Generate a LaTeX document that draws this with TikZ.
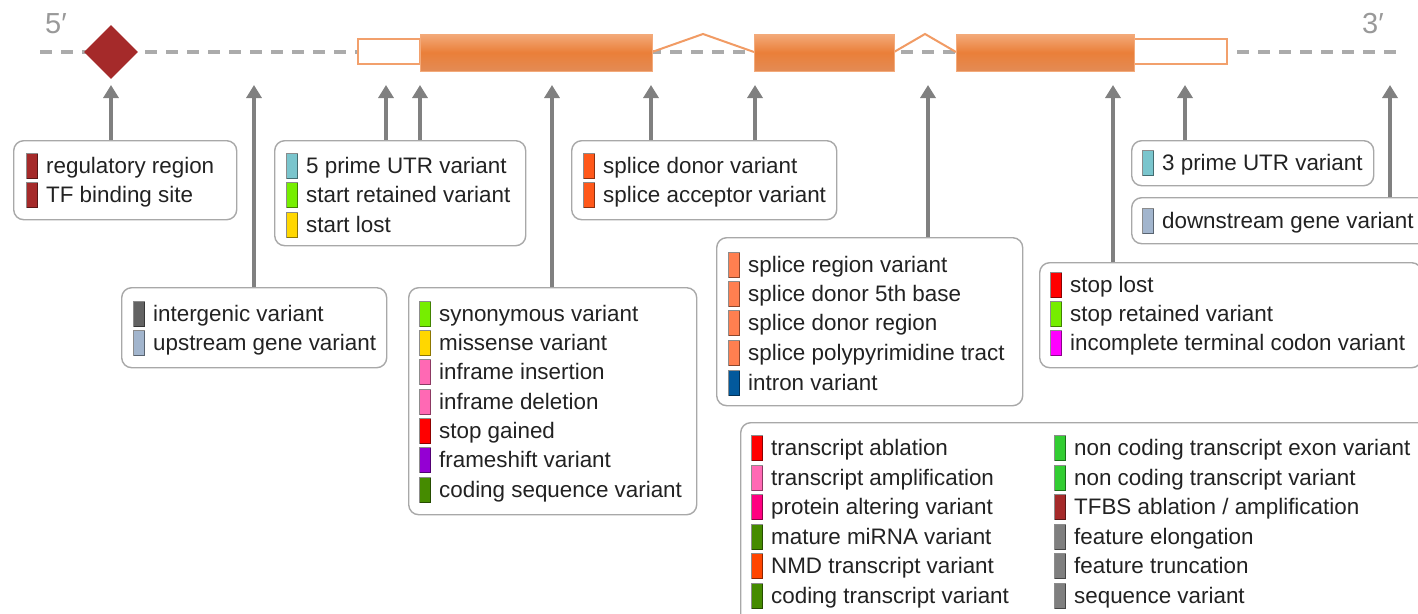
\documentclass[tikz,border=0pt]{standalone}
\usepackage{fontspec}
\setmainfont{Liberation Sans}
\usetikzlibrary{shapes.geometric,arrows.meta}

\definecolor{txt}{HTML}{222222}
\definecolor{boxline}{HTML}{A8A8A8}
\definecolor{pointergray}{HTML}{808080}
\definecolor{backbone}{HTML}{ABABAB}
\definecolor{utrline}{HTML}{F2A06C}
\definecolor{exontop}{HTML}{F3AA7A}
\definecolor{exonmid}{HTML}{EA7F39}
\definecolor{exonbot}{HTML}{E38B55}
% consequence colours
\definecolor{cbrown}{HTML}{A52A2A}
\definecolor{ccadet}{HTML}{7AC5CD}
\definecolor{cchart}{HTML}{76EE00}
\definecolor{cgold}{HTML}{FFD700}
\definecolor{csplice}{HTML}{FF581A}
\definecolor{csteel}{HTML}{A2B5CD}
\definecolor{cinter}{HTML}{636363}
\definecolor{cpink}{HTML}{FF69B4}
\definecolor{cred}{HTML}{FF0000}
\definecolor{cviolet}{HTML}{9400D3}
\definecolor{cdgreen}{HTML}{458B00}
\definecolor{ccoral}{HTML}{FF7F50}
\definecolor{cintron}{HTML}{02599C}
\definecolor{cmagenta}{HTML}{FF00FF}
\definecolor{cprot}{HTML}{FF0080}
\definecolor{cnmd}{HTML}{FF4500}
\definecolor{clime}{HTML}{32CD32}
\definecolor{cgray}{HTML}{7F7F7F}

\tikzset{
  legbox/.style={draw=boxline, line width=1.4pt, rounded corners=10pt, fill=white,
    anchor=north west, inner sep=0pt},
  swatch/.style={draw=black, draw opacity=0.45, line width=0.9pt,
    minimum width=11pt, minimum height=25pt, inner sep=0pt},
  itemtext/.style={anchor=base west, inner sep=0pt, text=txt,
    font=\fontsize{22.4}{27}\selectfont},
  pointer/.style={draw=pointergray, line width=4pt,
    -{Triangle[width=15pt,length=13pt]}},
  exonbox/.style={top color=exontop, bottom color=exonbot, middle color=exonmid,
    draw=exontop, line width=0.8pt},
  utrbox/.style={draw=utrline, line width=2pt, fill=white},
  intronline/.style={draw=utrline!85!exonmid, line width=2pt},
  primelabel/.style={text=black!40, font=\fontsize{29}{30}\selectfont,
    anchor=base west, inner sep=0pt},
}

% one coloured swatch with its consequence name
\newcommand\soitem[5]{%
  \node[swatch, fill=#4] (#1-sw) at (#2,#3) {};
  \node[itemtext] (#1) at ([xshift=8pt,yshift=-7.5pt]#1-sw.east) {#5};}

\begin{document}
\begin{tikzpicture}[x=1pt,y=-1pt]
  \fill[white] (0,0) rectangle (1418,613);
  \clip (0,0) rectangle (1418,613);

  % gene model
  \draw[backbone, line width=3.5pt, dash pattern=on 12pt off 9pt] (40,52) -- (1400,52);
  \node[primelabel] (five) at (45,33) {5′};
  \node[primelabel] (three) at (1362,33) {3′};
  \node[diamond, fill=cbrown, minimum width=54pt, minimum height=54pt, inner sep=0pt] (tfsite) at (111,52) {};
  \draw[utrbox] (358,39) rectangle (420,64);
  \draw[utrbox] (1134,39) rectangle (1227,64);
  \draw[intronline] (652,52) -- (703,34) -- (754,52);
  \draw[intronline] (894,52) -- (925,34) -- (956,52);
  \shade[exonbox] (420,34) rectangle (652,71);
  \shade[exonbox] (754,34) rectangle (894,71);
  \shade[exonbox] (956,34) rectangle (1134,71);

  % legend boxes
  \node[legbox, minimum width=223pt, minimum height=79pt]  (regbox)   at (13,140) {};
  \node[legbox, minimum width=251pt, minimum height=105pt] (utrfive)  at (274,140) {};
  \node[legbox, minimum width=265pt, minimum height=79pt]  (splbox)   at (571,140) {};
  \node[legbox, minimum width=242pt, minimum height=45pt]  (utrthree) at (1131,140) {};
  \node[legbox, minimum width=300pt, minimum height=46pt]  (downbox)  at (1131,197) {};
  \node[legbox, minimum width=265pt, minimum height=80pt]  (interbox) at (121,287) {};
  \node[legbox, minimum width=288pt, minimum height=227pt] (codbox)   at (408,287) {};
  \node[legbox, minimum width=306pt, minimum height=168pt] (regnbox)  at (716,237) {};
  \node[legbox, minimum width=382pt, minimum height=105pt] (stopbox)  at (1039,262) {};
  \node[legbox, minimum width=700pt, minimum height=220pt] (transbox) at (740,422) {};

  % pointer tips on the gene model
  \coordinate (p1) at (111,85);
  \coordinate (p2) at (254,85);
  \coordinate (p3) at (386,85);
  \coordinate (p4) at (420,85);
  \coordinate (p5) at (552,85);
  \coordinate (p6) at (651,85);
  \coordinate (p7) at (755,85);
  \coordinate (p8) at (928,85);
  \coordinate (p9) at (1113,85);
  \coordinate (p10) at (1185,85);
  \coordinate (p11) at (1390,85);

  \draw[pointer] (regbox.north -| p1) -- (p1);
  \draw[pointer] (interbox.north -| p2) -- (p2);
  \draw[pointer] (utrfive.north -| p3) -- (p3);
  \draw[pointer] (utrfive.north -| p4) -- (p4);
  \draw[pointer] (codbox.north -| p5) -- (p5);
  \draw[pointer] (splbox.north -| p6) -- (p6);
  \draw[pointer] (splbox.north -| p7) -- (p7);
  \draw[pointer] (regnbox.north -| p8) -- (p8);
  \draw[pointer] (stopbox.north -| p9) -- (p9);
  \draw[pointer] (utrthree.north -| p10) -- (p10);
  \draw[pointer] (downbox.north -| p11) -- (p11);

  % legend entries
  \soitem{i1}{32}{166}{cbrown}{regulatory region}
  \soitem{i2}{32}{195}{cbrown}{TF binding site}

  \soitem{i3}{292}{166}{ccadet}{5 prime UTR variant}
  \soitem{i4}{292}{195}{cchart}{start retained variant}
  \soitem{i5}{292}{225}{cgold}{start lost}

  \soitem{i6}{589}{166}{csplice}{splice donor variant}
  \soitem{i7}{589}{195}{csplice}{splice acceptor variant}

  \soitem{i8}{1148}{163}{ccadet}{3 prime UTR variant}
  \soitem{i9}{1148}{221}{csteel}{downstream gene variant}

  \soitem{i10}{139}{314}{cinter}{intergenic variant}
  \soitem{i11}{139}{343}{csteel}{upstream gene variant}

  \soitem{i12}{425}{314}{cchart}{synonymous variant}
  \soitem{i13}{425}{343}{cgold}{missense variant}
  \soitem{i14}{425}{372}{cpink}{inframe insertion}
  \soitem{i15}{425}{402}{cpink}{inframe deletion}
  \soitem{i16}{425}{431}{cred}{stop gained}
  \soitem{i17}{425}{460}{cviolet}{frameshift variant}
  \soitem{i18}{425}{490}{cdgreen}{coding sequence variant}

  \soitem{i19}{734}{265}{ccoral}{splice region variant}
  \soitem{i20}{734}{294}{ccoral}{splice donor 5th base}
  \soitem{i21}{734}{323}{ccoral}{splice donor region}
  \soitem{i22}{734}{353}{ccoral}{splice polypyrimidine tract}
  \soitem{i23}{734}{383}{cintron}{intron variant}

  \soitem{i24}{1056}{285}{cred}{stop lost}
  \soitem{i25}{1056}{314}{cchart}{stop retained variant}
  \soitem{i26}{1056}{343}{cmagenta}{incomplete terminal codon variant}

  \soitem{i27}{757}{448}{cred}{transcript ablation}
  \soitem{i28}{757}{478}{cpink}{transcript amplification}
  \soitem{i29}{757}{507}{cprot}{protein altering variant}
  \soitem{i30}{757}{537}{cdgreen}{mature miRNA variant}
  \soitem{i31}{757}{566}{cnmd}{NMD transcript variant}
  \soitem{i32}{757}{596}{cdgreen}{coding transcript variant}

  \soitem{i33}{1060}{448}{clime}{non coding transcript exon variant}
  \soitem{i34}{1060}{478}{clime}{non coding transcript variant}
  \soitem{i35}{1060}{507}{cbrown}{TFBS ablation / amplification}
  \soitem{i36}{1060}{537}{cgray}{feature elongation}
  \soitem{i37}{1060}{566}{cgray}{feature truncation}
  \soitem{i38}{1060}{596}{cgray}{sequence variant}
\end{tikzpicture}
\end{document}
